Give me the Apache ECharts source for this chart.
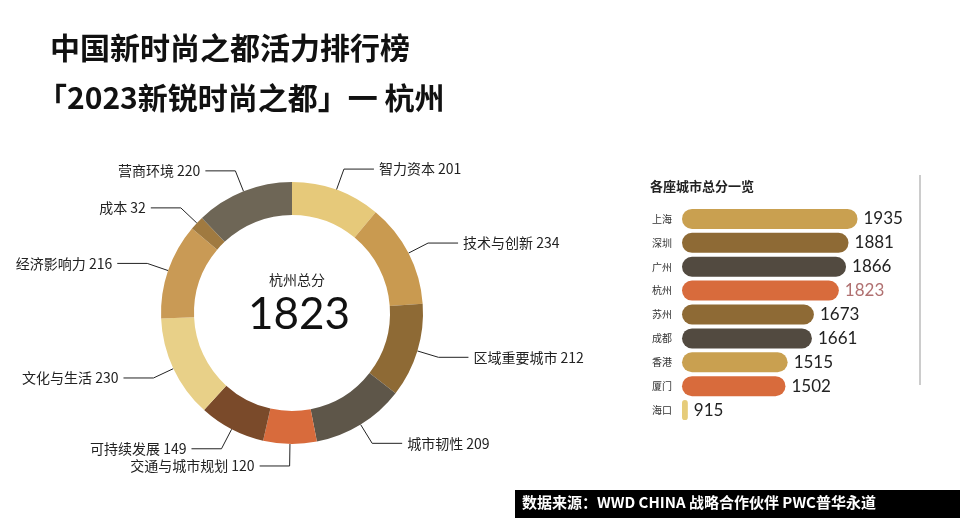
<!DOCTYPE html><html><head><meta charset="utf-8"><script src="https://cdn.jsdelivr.net/npm/echarts@6/dist/echarts.min.js"></script></head><body style="margin:0;background:#fff"><div id="c" style="width:960px;height:530px"></div><script>
const dims=['智力资本','技术与创新','区域重要城市','城市韧性','交通与城市规划','可持续发展','文化与生活','经济影响力','成本','营商环境'];
const dimScores=[201,234,212,209,120,149,230,216,32,220];
const dimColors=['#e6c97a','#c99a50','#8e6a35','#5e5649','#d86b3c','#7a4a2a','#e8d088','#c99a55','#a07a40','#6e6656'];
const cities=['上海','深圳','广州','杭州','苏州','成都','香港','厦门','海口'];
const cityScores=[1935,1881,1866,1823,1673,1661,1515,1502,915];
const cityColors=['#c9a050','#8e6a35','#524a40','#d86b3c','#8e6a35','#524a40','#c9a050','#d86b3c','#e6cc7a'];
const F='"Noto Sans CJK SC",sans-serif';
const chart=echarts.init(document.getElementById('c'));
chart.setOption({
 animation:false,
 textStyle:{fontFamily:F},
 title:[{text:'中国新时尚之都活力排行榜',left:45,top:28,textStyle:{fontSize:30,fontWeight:'bold',color:'#111',fontFamily:F}},
  {text:'「2023新锐时尚之都」一 杭州',left:32,top:78,textStyle:{fontSize:30,fontWeight:'bold',color:'#111',fontFamily:F}},
  {text:'杭州总分',left:292,top:268,textAlign:'center',textStyle:{fontSize:14,fontWeight:'normal',color:'#222'}},
  {text:'1823',left:294,top:288,textAlign:'center',textStyle:{fontSize:44,fontWeight:'normal',color:'#111',fontFamily:'Lato,sans-serif'}},
  {text:'各座城市总分一览',left:645,top:175,textStyle:{fontSize:13,fontWeight:'bold',color:'#222'}}],
 graphic:[{type:'rect',shape:{x:515,y:490,width:445,height:28},style:{fill:'#000'}},
  {type:'text',left:522,top:495,style:{text:'数据来源：WWD CHINA 战略合作伙伴 PWC普华永道',fill:'#fff',font:'bold 15px '+F}},
  {type:'line',shape:{x1:920,y1:175,x2:920,y2:385},style:{stroke:'#999',lineWidth:1}}],
 grid:{left:682,top:207,width:178,height:215},
 xAxis:{type:'value',min:880,max:1950,show:false},
 yAxis:{type:'category',data:cities,inverse:true,axisLine:{show:false},axisTick:{show:false},axisLabel:{fontSize:10,color:'#333',margin:30,align:'left'}},
 series:[
 {type:'pie',radius:[98,131],center:[292,313],startAngle:90,clockwise:true,
  data:dims.map((d,i)=>({name:d,value:dimScores[i],itemStyle:{color:dimColors[i]}})),
  label:{formatter:'{b} {c}',fontSize:14,color:'#222',fontFamily:F},
  labelLine:{length:22,length2:30,lineStyle:{color:'#222',width:1}}},
 {type:'bar',data:cityScores.map((v,i)=>({value:v,itemStyle:{color:cityColors[i]},label:{color:i===3?'#b07070':'#222'}})),
  barWidth:20,barMinHeight:22,itemStyle:{borderRadius:10},
  label:{show:true,position:'right',fontSize:17,fontFamily:'Lato,sans-serif',distance:6}}]
});
</script></body></html>
